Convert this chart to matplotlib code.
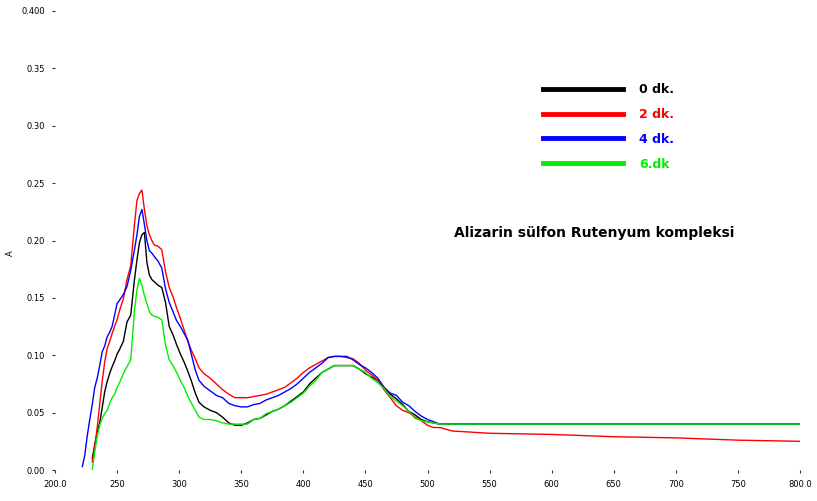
import matplotlib
matplotlib.use("Agg")
import matplotlib.pyplot as plt

# ---------------- data (wavelength nm, absorbance) ----------------
wl_common = [230, 232, 234, 236, 238, 240, 242, 244, 246, 248, 250, 252, 255, 258, 261,
             264, 266, 268, 270, 272, 274, 276, 278, 280, 283, 286, 289, 292, 295, 298,
             301, 304, 307, 310, 313, 316, 320, 325, 330, 335, 340, 345, 350, 355, 360,
             365, 370, 375, 380, 385, 390, 395, 400, 405, 410, 415, 420, 425, 430, 435,
             440, 445, 450, 455, 460, 465, 470, 475, 480, 485, 490, 495, 500, 505, 510]

a0 = [0.010, 0.022, 0.033, 0.041, 0.054, 0.068, 0.077, 0.084, 0.090, 0.095, 0.101, 0.105,
      0.112, 0.129, 0.135, 0.166, 0.183, 0.198, 0.205, 0.207, 0.181, 0.170, 0.166, 0.164,
      0.161, 0.159, 0.146, 0.125, 0.118, 0.109, 0.101, 0.094, 0.086, 0.077, 0.067, 0.059,
      0.055, 0.052, 0.050, 0.046, 0.041, 0.039, 0.039, 0.041, 0.044, 0.045, 0.048, 0.051,
      0.053, 0.056, 0.060, 0.064, 0.068, 0.075, 0.080, 0.085, 0.088, 0.091, 0.091, 0.091,
      0.091, 0.088, 0.084, 0.081, 0.078, 0.072, 0.066, 0.062, 0.057, 0.051, 0.048, 0.044,
      0.042, 0.041, 0.040]

a2 = [0.007, 0.020, 0.037, 0.057, 0.077, 0.094, 0.106, 0.112, 0.119, 0.125, 0.131, 0.139,
      0.149, 0.166, 0.178, 0.214, 0.235, 0.241, 0.244, 0.227, 0.213, 0.205, 0.200, 0.196,
      0.195, 0.192, 0.173, 0.159, 0.151, 0.141, 0.132, 0.122, 0.112, 0.104, 0.097, 0.089,
      0.084, 0.080, 0.075, 0.070, 0.066, 0.063, 0.063, 0.063, 0.064, 0.065, 0.066, 0.068,
      0.070, 0.072, 0.076, 0.080, 0.085, 0.089, 0.092, 0.095, 0.098, 0.099, 0.099, 0.098,
      0.097, 0.093, 0.087, 0.083, 0.078, 0.070, 0.063, 0.056, 0.052, 0.050, 0.046, 0.043,
      0.039, 0.037, 0.037]
wl2_tail = [520, 550, 600, 650, 700, 750, 800]
a2_tail = [0.034, 0.032, 0.031, 0.029, 0.028, 0.026, 0.025]

wl4_head = [222, 224, 226, 228]
a4_head = [0.003, 0.013, 0.030, 0.044]
a4 = [0.057, 0.072, 0.080, 0.091, 0.103, 0.108, 0.116, 0.120, 0.125, 0.135, 0.145, 0.148,
      0.153, 0.160, 0.174, 0.192, 0.205, 0.221, 0.227, 0.214, 0.200, 0.191, 0.189, 0.186,
      0.182, 0.176, 0.158, 0.146, 0.138, 0.130, 0.125, 0.119, 0.113, 0.100, 0.087, 0.078,
      0.073, 0.069, 0.065, 0.063, 0.058, 0.056, 0.055, 0.055, 0.057, 0.058, 0.061, 0.063,
      0.065, 0.068, 0.071, 0.075, 0.080, 0.085, 0.089, 0.093, 0.098, 0.099, 0.099, 0.099,
      0.096, 0.092, 0.089, 0.085, 0.080, 0.072, 0.067, 0.065, 0.059, 0.056, 0.051, 0.047,
      0.044, 0.042, 0.040]

a6 = [0.000, 0.016, 0.029, 0.039, 0.045, 0.049, 0.052, 0.058, 0.063, 0.066, 0.072, 0.076,
      0.084, 0.090, 0.096, 0.139, 0.157, 0.167, 0.161, 0.152, 0.145, 0.138, 0.135, 0.134,
      0.133, 0.131, 0.109, 0.096, 0.091, 0.085, 0.078, 0.072, 0.064, 0.058, 0.052, 0.046,
      0.044, 0.044, 0.043, 0.041, 0.040, 0.040, 0.040, 0.040, 0.044, 0.045, 0.049, 0.051,
      0.053, 0.056, 0.059, 0.063, 0.067, 0.073, 0.078, 0.085, 0.088, 0.091, 0.091, 0.091,
      0.091, 0.088, 0.085, 0.080, 0.076, 0.071, 0.064, 0.060, 0.056, 0.051, 0.045, 0.043,
      0.042, 0.041, 0.040]
wl_flat_tail = [520, 550, 600, 650, 700, 750, 800]
a_flat_tail = [0.040, 0.040, 0.040, 0.040, 0.040, 0.040, 0.040]

series_labels = ["0 dk.", "2 dk.", "4 dk.", "6.dk"]
series_colors = ["#000000", "#ff0000", "#0000ff", "#00ee00"]

x_ticks = [200, 250, 300, 350, 400, 450, 500, 550, 600, 650, 700, 750, 800]
x_ticklabels = ["200.0", "250", "300", "350", "400", "450", "500", "550", "600",
                "650", "700", "750", "800.0"]
y_ticks = [0.00, 0.05, 0.10, 0.15, 0.20, 0.25, 0.30, 0.35, 0.40]
y_ticklabels = ["0.00", "0.05", "0.10", "0.15", "0.20", "0.25", "0.30", "0.35", "0.400"]

title_text = "Alizarin sülfon Rutenyum kompleksi"

# ---------------- figure ----------------
fig = plt.figure(figsize=(8.17, 5.01), dpi=100)
ax = fig.add_axes([55 / 817, 31 / 501, 745 / 817, 459 / 501])

curves = [
    (wl_common + wl_flat_tail, a0 + a_flat_tail),
    (wl_common + wl2_tail, a2 + a2_tail),
    (wl4_head + wl_common + wl_flat_tail, a4_head + a4 + a_flat_tail),
    (wl_common + wl_flat_tail, a6 + a_flat_tail),
]
for (xs, ys), lab, col in zip(curves, series_labels, series_colors):
    ax.plot(xs, ys, color=col, lw=1.0, label=lab)

ax.set_xlim(200, 800)
ax.set_ylim(0.0, 0.4)
ax.set_xticks(x_ticks)
ax.set_xticklabels(x_ticklabels)
ax.set_yticks(y_ticks)
ax.set_yticklabels(y_ticklabels)
ax.tick_params(axis="both", labelsize=6, length=2, width=0.8, color="#333333", pad=5)
for s in ax.spines.values():
    s.set_visible(False)

ax.set_ylabel("A", fontsize=6, rotation=90)
ax.yaxis.set_label_coords((15 - 55) / 745, (470 - 253) / 459)

leg = ax.legend(loc="upper left", bbox_to_anchor=((543 - 55) / 745, (470 - 83) / 459),
                frameon=False, handlelength=6.4, handletextpad=1.3, labelspacing=0.95,
                borderpad=0, borderaxespad=0,
                prop={"weight": "bold", "size": 9}, labelcolor="linecolor")
for ln in leg.get_lines():
    ln.set_linewidth(3.5)

ax.text((594 - 55) / 745, (470 - 233) / 459, title_text, transform=ax.transAxes,
        ha="center", va="center", fontsize=10, fontweight="bold")

fig.savefig("out.png", dpi=100)
